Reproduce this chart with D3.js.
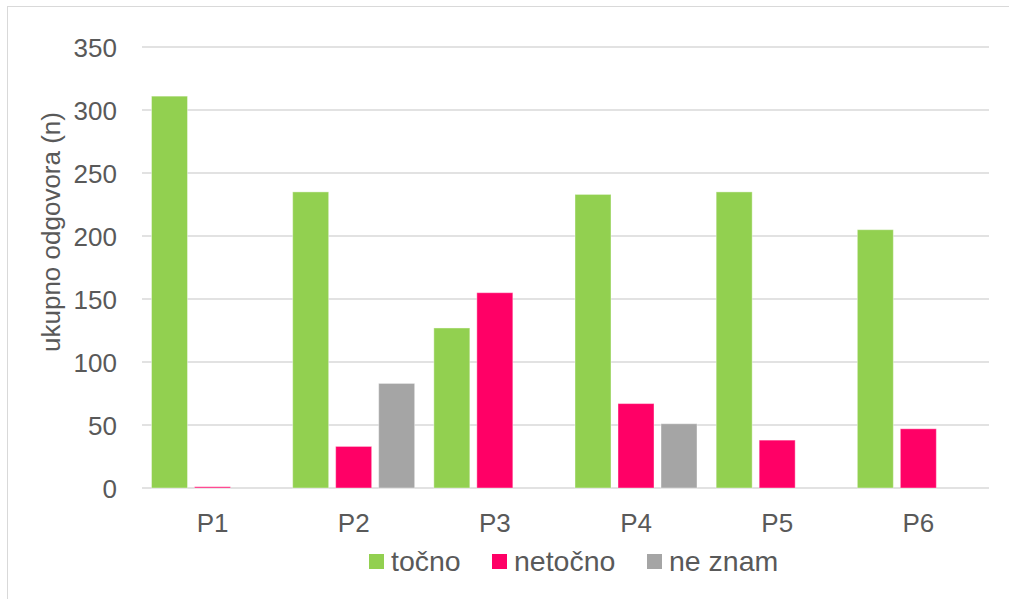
<!DOCTYPE html>
<html><head><meta charset="utf-8">
<script src="https://cdn.jsdelivr.net/npm/d3@7"></script>
<style>body{margin:0;background:#fff}svg{display:block}text{font-family:"Liberation Sans",Arial,sans-serif;fill:#595959}</style>
</head><body>
<svg id="c" width="1009" height="599"></svg>
<script>
const categories = ["P1","P2","P3","P4","P5","P6"];
const seriesNames = ["točno","netočno","ne znam"];
const tocno   = [311, 235, 127, 233, 235, 205];
const netocno = [1, 33, 155, 67, 38, 47];
const neZnam  = [0, 83, 0, 51, 0, 0];
const yTicks = [0,50,100,150,200,250,300,350];
const colors = ["#92D050","#FF0066","#A5A5A5"];
const series = [tocno, netocno, neZnam];

const svg = d3.select("#c");
svg.append("rect").attr("x",7.5).attr("y",6.5).attr("width",1010).attr("height",600)
  .attr("fill","#fff").attr("stroke","#d9d9d9").attr("stroke-width",1);

const x0 = d3.scaleBand().domain(categories).range([142,989]).padding(0);
const x1 = d3.scaleBand().domain(seriesNames).range([9.5, 131.5]).paddingInner(7/43).paddingOuter(0);
const y = d3.scaleLinear().domain([0,350]).range([488,47]);

// gridlines
svg.append("g").selectAll("line").data(yTicks).join("line")
  .attr("x1",142).attr("x2",989).attr("y1",d=>y(d)).attr("y2",d=>y(d))
  .attr("stroke","#d9d9d9").attr("stroke-width",1.5);

// y labels
const yAxis = d3.axisLeft(y).tickValues(yTicks).tickSize(0).tickPadding(0);
const gy = svg.append("g").attr("transform","translate(117,0)").call(yAxis);
gy.select(".domain").remove();
gy.attr("font-family",null).attr("font-size",null);
gy.selectAll("text").style("font-size","26px").style("fill","#595959").attr("dy","0.36em");

// bars
seriesNames.forEach((s,si)=>{
  svg.append("g").selectAll("rect").data(categories).join("rect")
    .attr("x",c=>x0(c)+x1(s))
    .attr("width",x1.bandwidth())
    .attr("y",(c,i)=>y(series[si][i]))
    .attr("height",(c,i)=>y(0)-y(series[si][i]))
    .attr("fill",colors[si])
    .attr("stroke","#ffffff").attr("stroke-opacity",0.4).attr("stroke-width",1);
});

// x labels
const xAxis = d3.axisBottom(x0).tickSize(0).tickPadding(0);
const gx = svg.append("g").attr("transform","translate(0,531.5)").call(xAxis);
gx.select(".domain").remove();
gx.attr("font-family",null).attr("font-size",null);
gx.selectAll("text").style("font-size","26px").style("fill","#595959").attr("y",0).attr("dy","0");

// y title
svg.append("text").attr("transform","translate(60,232) rotate(-90)")
  .attr("text-anchor","middle").style("font-size","26px").text("ukupno odgovora (n)");

// legend
const legX = [369, 492, 647];
seriesNames.forEach((s,i)=>{
  svg.append("rect").attr("x",legX[i]).attr("y",554).attr("width",15).attr("height",15).attr("fill",colors[i]);
  svg.append("text").attr("x",legX[i]+22).attr("y",570.5).style("font-size","28.5px").text(s);
});
</script>
</body></html>
